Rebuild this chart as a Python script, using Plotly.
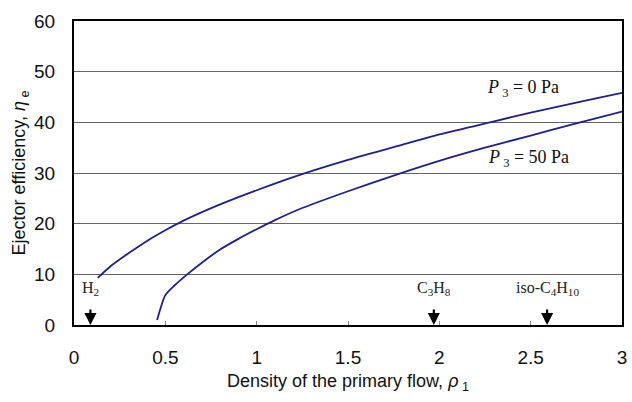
import plotly.graph_objects as go

# Data
rho_p0 = [0.13, 0.2, 0.3, 0.4, 0.5, 0.6, 0.8, 1.0, 1.2, 1.5, 1.8, 2.0, 2.3, 2.5, 2.8, 3.0]
eta_p0 = [9.3, 11.6, 14.2, 16.6, 18.7, 20.6, 23.8, 26.6, 29.2, 32.6, 35.6, 37.6, 40.2, 41.9, 44.3, 45.8]

rho_p50 = [0.455, 0.48, 0.5, 0.55, 0.62, 0.7, 0.8, 0.9, 1.0, 1.1, 1.23, 1.5, 1.75, 2.0, 2.25, 2.5, 2.75, 3.0]
eta_p50 = [1.0, 4.0, 5.9, 7.8, 10.0, 12.3, 14.9, 17.0, 18.9, 20.7, 22.8, 26.4, 29.5, 32.4, 35.0, 37.4, 39.8, 42.1]

gas_names = ["H<sub>2</sub>", "C<sub>3</sub>H<sub>8</sub>", "iso-C<sub>4</sub>H<sub>10</sub>"]
gas_rho = [0.09, 1.97, 2.59]

x_ticks = [0, 0.5, 1, 1.5, 2, 2.5, 3]
x_ticklabels = ["0", "0.5", "1", "1.5", "2", "2.5", "3"]
y_ticks = [0, 10, 20, 30, 40, 50, 60]

line_color = "#1f1f8f"
serif = "Liberation Serif, Times New Roman, serif"
sans = "Liberation Sans, Arial, sans-serif"

fig = go.Figure()
fig.add_trace(go.Scatter(x=rho_p0, y=eta_p0, mode="lines", line=dict(color=line_color, width=1.8, shape="spline", smoothing=0.8), showlegend=False))
fig.add_trace(go.Scatter(x=rho_p50, y=eta_p50, mode="lines", line=dict(color=line_color, width=1.8, shape="spline", smoothing=0.8), showlegend=False))

annotations = [
    dict(x=2.46, y=46.6, text="<i>P</i><sub> 3</sub> = 0 Pa", showarrow=False, font=dict(family=serif, size=18, color="#111")),
    dict(x=2.49, y=32.8, text="<i>P</i><sub> 3</sub> = 50 Pa", showarrow=False, font=dict(family=serif, size=18, color="#111")),
]
for name, r in zip(gas_names, gas_rho):
    annotations.append(dict(x=r, y=7.2, text=name, showarrow=False, font=dict(family=serif, size=16, color="#222")))
    annotations.append(dict(x=r, y=0, ax=0, ay=-17, text="", showarrow=True, arrowhead=2, arrowsize=1.1, arrowwidth=2.2, arrowcolor="black"))

fig.update_layout(
    width=632, height=402,
    margin=dict(l=74, r=5, t=21, b=77),
    paper_bgcolor="white", plot_bgcolor="white",
    font=dict(family=sans, size=19, color="#111"),
    annotations=annotations,
    xaxis=dict(range=[0, 3], tickvals=x_ticks, ticktext=x_ticklabels, showgrid=False, zeroline=False,
               showline=True, linecolor="black", linewidth=2, mirror=True,
               ticks="inside", ticklen=4, tickcolor="#888", tickwidth=1, ticklabelstandoff=14,
               tickfont=dict(size=19), title=dict(text="Density of the primary flow, <i>ρ</i><sub> 1</sub>", font=dict(size=18), standoff=8)),
    yaxis=dict(range=[0, 60], tickvals=y_ticks, showgrid=True, gridcolor="#666", gridwidth=1, zeroline=False,
               showline=True, linecolor="black", linewidth=2, mirror=True, ticks="", ticklabelstandoff=13,
               tickfont=dict(size=19), title=dict(text="Ejector efficiency, <i>η</i><sub> e</sub>", font=dict(size=18), standoff=4)),
)
fig.write_html("out.html")
